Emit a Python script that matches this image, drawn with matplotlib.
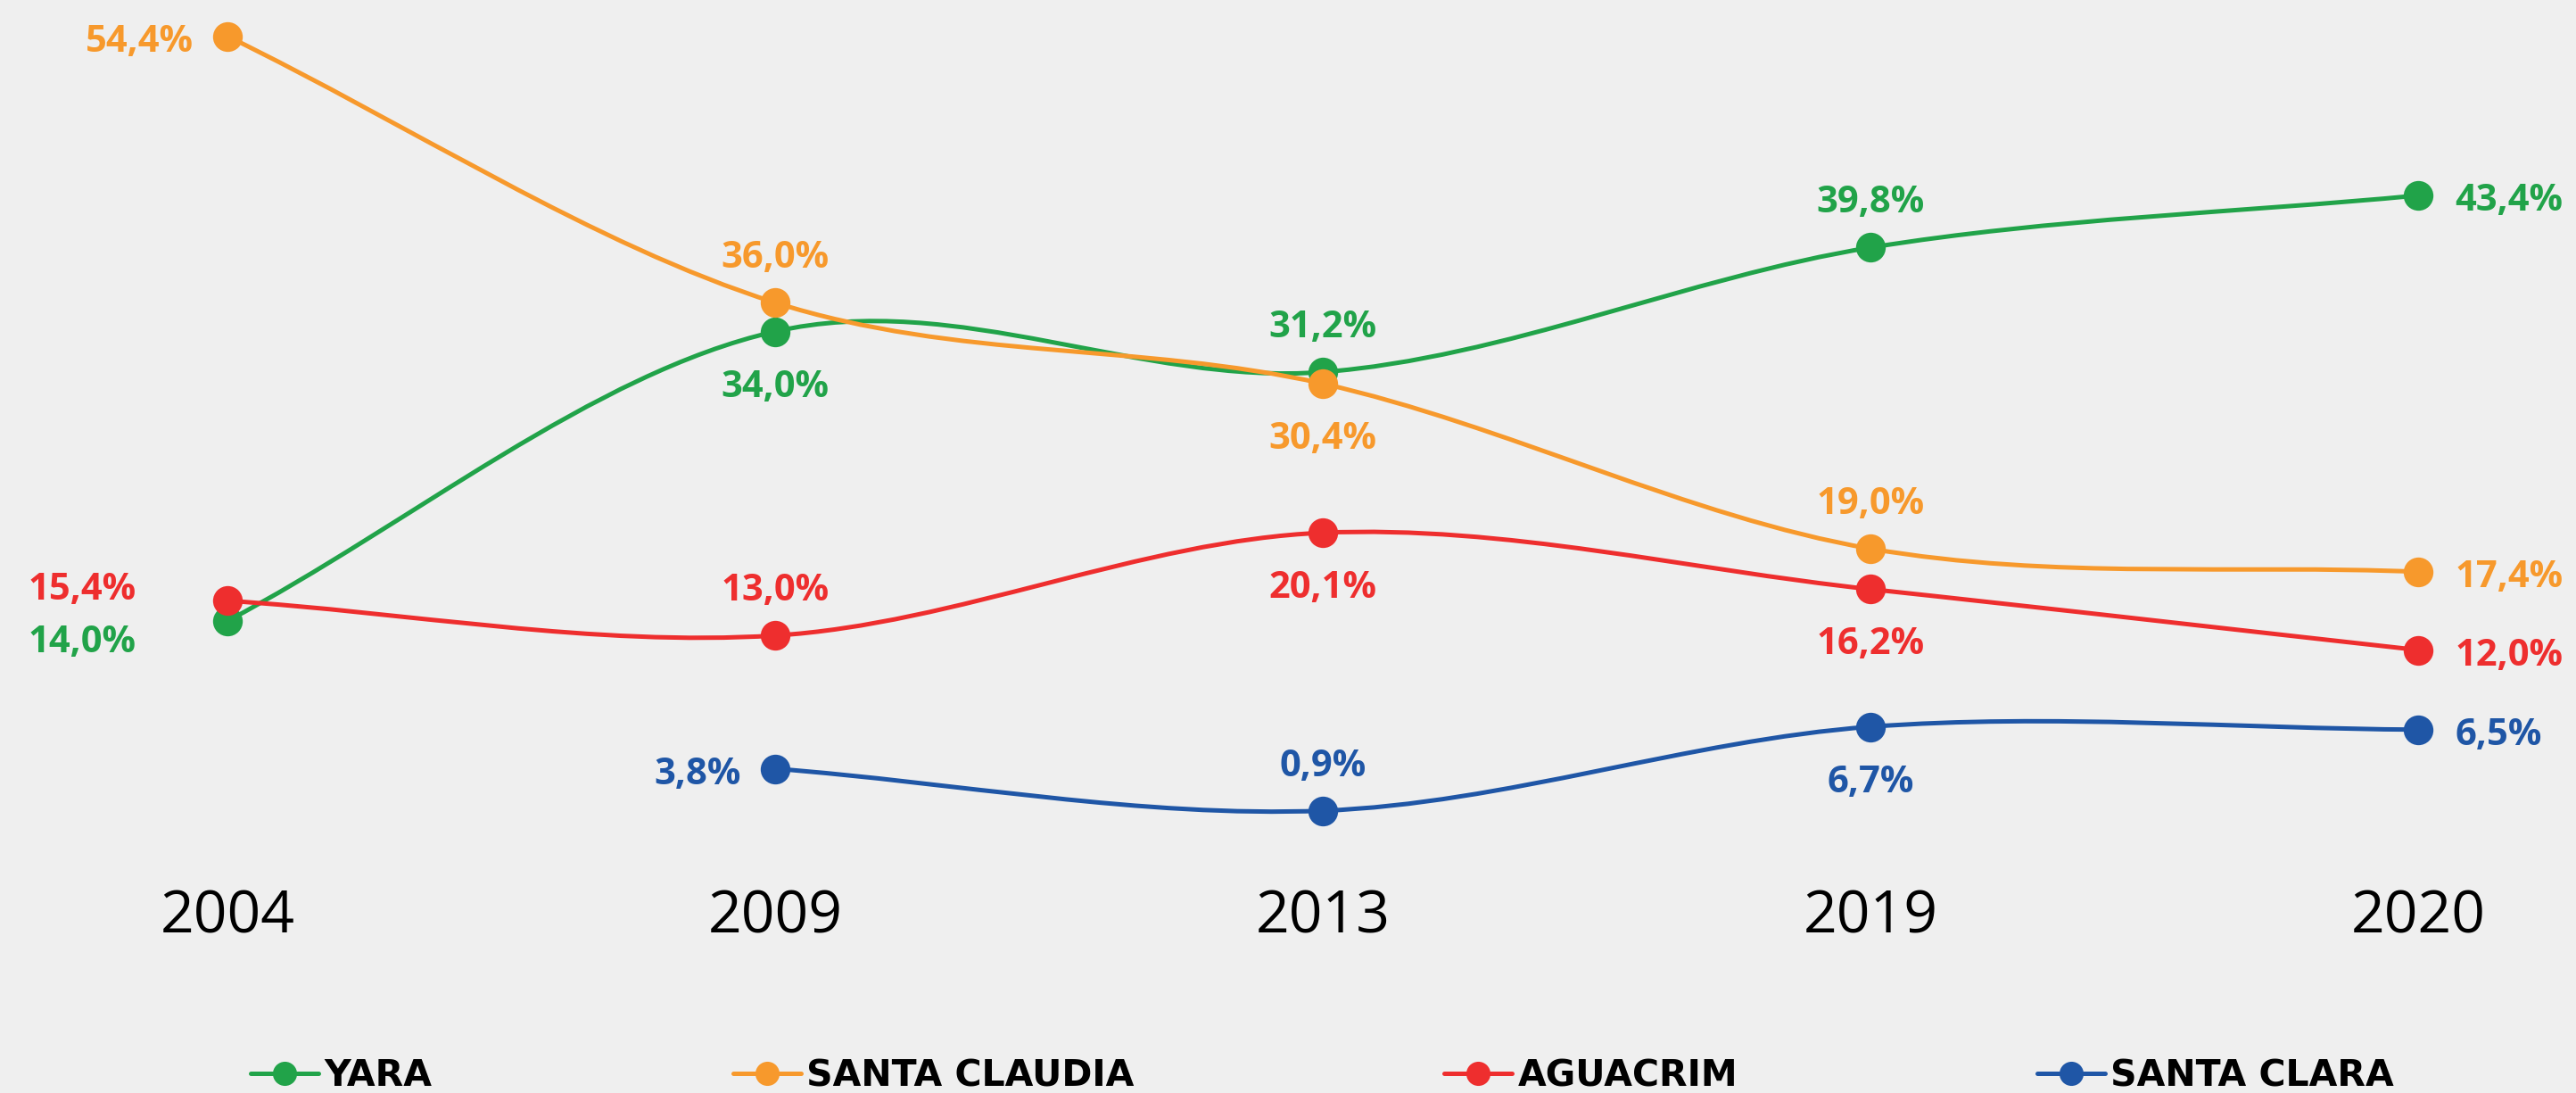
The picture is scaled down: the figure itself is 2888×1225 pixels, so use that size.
import matplotlib
matplotlib.use('Agg')
import matplotlib.pyplot as plt
from matplotlib.path import Path
from matplotlib.patches import PathPatch
from matplotlib.lines import Line2D

# ---------------- data ----------------
years = ['2004', '2009', '2013', '2019', '2020']
series_names = ['YARA', 'SANTA CLAUDIA', 'AGUACRIM', 'SANTA CLARA']
yara = [14.0, 34.0, 31.2, 39.8, 43.4]
santa_claudia = [54.4, 36.0, 30.4, 19.0, 17.4]
aguacrim = [15.4, 13.0, 20.1, 16.2, 12.0]
santa_clara = [None, 3.8, 0.9, 6.7, 6.5]
series_values = [yara, santa_claudia, aguacrim, santa_clara]

# ---------------- style ----------------
colors = ['#21A349', '#F7992C', '#EE2E2E', '#1F56A6']
bg = '#efefef'
label_pos = [
    ['left_low', 'below', 'above', 'above', 'right'],
    ['left', 'above', 'below', 'above', 'right'],
    ['left_high', 'above', 'below', 'below', 'right'],
    [None, 'left', 'above', 'below', 'right'],
]
offsets = {  # (dx, dy) in pixels for the text baseline, alignment
    'above': (0, 39, 'center'),
    'below': (0, -73, 'center'),
    'left': (-38, -17, 'right'),
    'right': (41, -17, 'left'),
    'left_high': (-102, 1, 'right'),
    'left_low': (-102, -35, 'right'),
}
legend_x_px = [281, 822, 1619, 2284]

W, H, DPI = 2888, 1225, 100
fig = plt.figure(figsize=(W / DPI, H / DPI), dpi=DPI, facecolor=bg)
ax = fig.add_axes([0, 0, 1, 1])
ax.set_facecolor(bg)
ax.set_xlim(-0.415, 4.288)
ax.set_ylim(-18.6, 56.9)
ax.axis('off')

LW = 3.6
MS = 24


def smooth_path(xs, ys):
    n = len(xs)
    m = []
    for i in range(n):
        if i == 0:
            m.append((ys[1] - ys[0]) / (xs[1] - xs[0]))
        elif i == n - 1:
            m.append((ys[-1] - ys[-2]) / (xs[-1] - xs[-2]))
        else:
            m.append((ys[i + 1] - ys[i - 1]) / (xs[i + 1] - xs[i - 1]))
    verts = [(xs[0], ys[0])]
    codes = [Path.MOVETO]
    for i in range(n - 1):
        dx = xs[i + 1] - xs[i]
        verts += [(xs[i] + dx / 3, ys[i] + m[i] * dx / 3),
                  (xs[i + 1] - dx / 3, ys[i + 1] - m[i + 1] * dx / 3),
                  (xs[i + 1], ys[i + 1])]
        codes += [Path.CURVE4] * 3
    return Path(verts, codes)


handles = []
for s, (vals, col) in enumerate(zip(series_values, colors)):
    xs = [i for i, v in enumerate(vals) if v is not None]
    ys = [v for v in vals if v is not None]
    patch = PathPatch(smooth_path(xs, ys), facecolor='none', edgecolor=col,
                      lw=LW, capstyle='round', zorder=2 + s)
    ax.add_patch(patch)
    ax.plot(xs, ys, linestyle='none', marker='o', ms=MS, color=col,
            markeredgewidth=0, zorder=2.5 + s)
    for i, v in enumerate(vals):
        if v is None:
            continue
        dx, dy, ha = offsets[label_pos[s][i]]
        ax.annotate(f'{v:.1f}%'.replace('.', ','), xy=(i, v), xytext=(dx, dy),
                    textcoords='offset pixels', ha=ha, va='baseline',
                    color=col, fontsize=30, fontfamily='Open Sans',
                    fontweight='bold', zorder=10)
    handles.append(Line2D([], [], color=col, lw=LW, marker='o', ms=19.5,
                          markeredgewidth=0, solid_capstyle='round'))

for i, yr in enumerate(years):
    ax.annotate(yr, xy=(i, H - 1046), xycoords=('data', 'figure pixels'),
                ha='center', va='baseline', fontsize=47.5,
                fontfamily='Open Sans', color='black')

for h, name, xp in zip(handles, series_names, legend_x_px):
    leg = fig.legend(handles=[h], labels=[name], loc='center left',
                     bbox_to_anchor=(xp / W, (H - 1206) / H), frameon=False,
                     borderpad=0, borderaxespad=0, handlelength=1.86,
                     handletextpad=0.15,
                     prop={'family': 'DejaVu Sans', 'weight': 'bold', 'size': 29.5})

fig.savefig('out.png', dpi=DPI, facecolor=bg)
